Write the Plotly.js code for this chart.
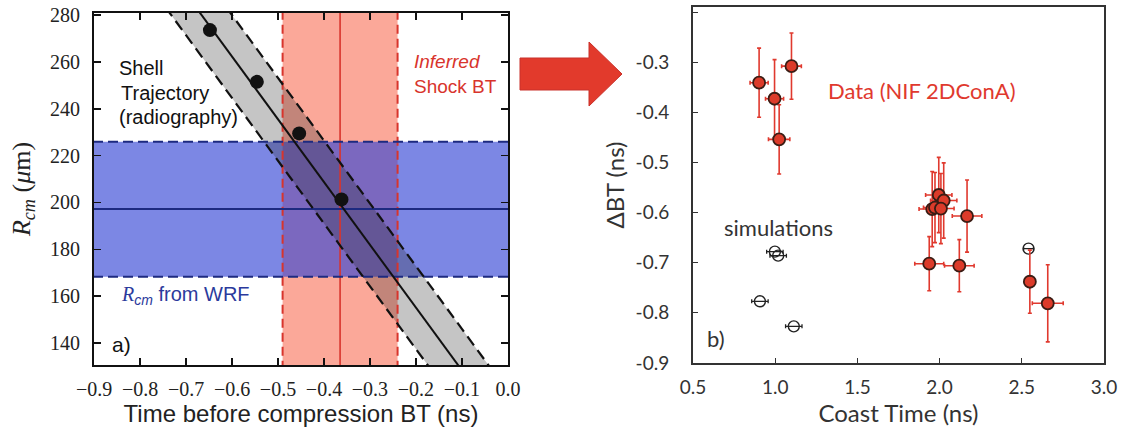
<!DOCTYPE html>
<html><head><meta charset="utf-8">
<script src="https://cdn.plot.ly/plotly-3.0.1.min.js"></script>
<style>html,body{margin:0;padding:0;background:#fff}#chart{width:1123px;height:434px}</style>
</head><body><div id="chart"></div>
<script>
// ---------- Panel a data ----------
const shellT = [-0.648, -0.546, -0.454, -0.362];      // ns
const shellR = [273.6, 251.5, 229.5, 201.3];          // μm
const fitIntercept = [101.5];                          // μm  (R = a + b t)
const fitSlope = [-268];                               // μm/ns
const fitHalfWidth = [0.066];                          // ns
const wrfR = [168.3, 197.2, 225.9];                    // low, mid, high (μm)
const shockBT = [-0.49, -0.365, -0.24];                // low, mid, high (ns)
const aRangeX = [-0.9001, 0.0001];
const aRangeY = [130.6, 280.9];
const aTickX = [-0.9, -0.8, -0.7, -0.6, -0.5, -0.4, -0.3, -0.2, -0.1, 0.0];
const aTickY = [140, 160, 180, 200, 220, 240, 260, 280];

// ---------- Panel b data ----------
const dataCoast = [0.902, 0.996, 1.024, 1.099, 1.995, 2.025, 1.955, 1.972, 2.008, 2.167, 1.937, 2.120, 2.549, 2.658];
const dataDBT   = [-0.341, -0.373, -0.454, -0.308, -0.565, -0.576, -0.593, -0.590, -0.592, -0.607, -0.702, -0.706, -0.738, -0.781];
const dataErrX  = [0.055, 0.055, 0.065, 0.06, 0.08, 0.08, 0.08, 0.07, 0.08, 0.09, 0.088, 0.09, 0.02, 0.094];
const dataErrY  = [0.069, 0.078, 0.069, 0.066, 0.075, 0.075, 0.075, 0.07, 0.07, 0.072, 0.054, 0.052, 0.063, 0.077];
const simCoast = [0.998, 1.018, 0.907, 1.113, 2.541];
const simDBT   = [-0.678, -0.686, -0.777, -0.827, -0.672];
const simErrX  = [0.05, 0.05, 0.05, 0.05, 0.03];
const bRangeX = [0.4999, 3.0001];
const bRangeY = [-0.9001, -0.19];
const bTickX = [0.5, 1.0, 1.5, 2.0, 2.5, 3.0];
const bTickXText = ['0.5', '1.0', '1.5', '2.0', '2.5', '3.0'];
const bTickY = [-0.9, -0.8, -0.7, -0.6, -0.5, -0.4, -0.3, -0.2];
const bTickYText = ['-0.9', '-0.8', '-0.7', '-0.6', '-0.5', '-0.4', '-0.3', '-0.2'];

// ---------- helpers ----------
const W = 1123, H = 434;
const px = v => v / W, py = v => 1 - v / H;
const RED = '#d8342c', NAVY = '#1d2a80';
const yLo = aRangeY[0] - 20, yHi = aRangeY[1] + 20;
const xLo = aRangeX[0] - 0.1, xHi = aRangeX[1] + 0.1;
const tAt = R => (R - fitIntercept[0]) / fitSlope[0];
const hw = fitHalfWidth[0];

const traces = [];
// red (shock) band
traces.push({x: [shockBT[0], shockBT[2], shockBT[2], shockBT[0], shockBT[0]], y: [yLo, yLo, yHi, yHi, yLo],
  type: 'scatter', mode: 'lines', fill: 'toself', fillcolor: 'rgba(248,105,80,0.58)', line: {width: 0},
  xaxis: 'x', yaxis: 'y', hoverinfo: 'skip', showlegend: false});
// blue (WRF) band
traces.push({x: [xLo, xHi, xHi, xLo, xLo], y: [wrfR[0], wrfR[0], wrfR[2], wrfR[2], wrfR[0]],
  type: 'scatter', mode: 'lines', fill: 'toself', fillcolor: 'rgba(50,68,212,0.64)', line: {width: 0},
  xaxis: 'x', yaxis: 'y', hoverinfo: 'skip', showlegend: false});
// gray shell trajectory band
traces.push({x: [tAt(yHi) - hw, tAt(yHi) + hw, tAt(yLo) + hw, tAt(yLo) - hw, tAt(yHi) - hw], y: [yHi, yHi, yLo, yLo, yHi],
  type: 'scatter', mode: 'lines', fill: 'toself', fillcolor: 'rgba(40,40,40,0.27)', line: {width: 0},
  xaxis: 'x', yaxis: 'y', hoverinfo: 'skip', showlegend: false});
// red lines
[0, 2].forEach(i => traces.push({x: [shockBT[i], shockBT[i]], y: [yLo, yHi], type: 'scatter', mode: 'lines',
  line: {color: RED, width: 2, dash: '9px,5px'}, xaxis: 'x', yaxis: 'y', hoverinfo: 'skip', showlegend: false}));
traces.push({x: [shockBT[1], shockBT[1]], y: [yLo, yHi], type: 'scatter', mode: 'lines',
  line: {color: RED, width: 1.6}, xaxis: 'x', yaxis: 'y', hoverinfo: 'skip', showlegend: false});
// blue lines
[0, 2].forEach(i => traces.push({x: [xLo, xHi], y: [wrfR[i], wrfR[i]], type: 'scatter', mode: 'lines',
  line: {color: NAVY, width: 2, dash: '10px,5px'}, xaxis: 'x', yaxis: 'y', hoverinfo: 'skip', showlegend: false}));
traces.push({x: [xLo, xHi], y: [wrfR[1], wrfR[1]], type: 'scatter', mode: 'lines',
  line: {color: NAVY, width: 2}, xaxis: 'x', yaxis: 'y', hoverinfo: 'skip', showlegend: false});
// black trajectory lines
[-1, 1].forEach(s => traces.push({x: [tAt(yHi) + s * hw, tAt(yLo) + s * hw], y: [yHi, yLo], type: 'scatter', mode: 'lines',
  line: {color: '#111', width: 2.2, dash: '11px,6px'}, xaxis: 'x', yaxis: 'y', hoverinfo: 'skip', showlegend: false}));
traces.push({x: [tAt(yHi), tAt(yLo)], y: [yHi, yLo], type: 'scatter', mode: 'lines',
  line: {color: '#111', width: 2}, xaxis: 'x', yaxis: 'y', hoverinfo: 'skip', showlegend: false});
// radiography points
traces.push({x: shellT, y: shellR, type: 'scatter', mode: 'markers',
  marker: {color: '#111', size: 14}, xaxis: 'x', yaxis: 'y', showlegend: false, cliponaxis: false});

// panel b: simulations
traces.push({x: simCoast, y: simDBT, type: 'scatter', mode: 'markers',
  marker: {symbol: 'circle-open', color: '#222', size: 11, line: {width: 1.4, color: '#222'}},
  error_x: {type: 'data', array: simErrX, visible: true, color: '#222', thickness: 1.3, width: 2},
  xaxis: 'x2', yaxis: 'y2', showlegend: false});
// panel b: data
traces.push({x: dataCoast, y: dataDBT, type: 'scatter', mode: 'markers',
  marker: {color: '#dc3b2a', size: 12, line: {width: 1.8, color: '#3a1c14'}},
  error_x: {type: 'data', array: dataErrX, visible: true, color: '#e0392e', thickness: 1.6, width: 2},
  error_y: {type: 'data', array: dataErrY, visible: true, color: '#e0392e', thickness: 1.6, width: 2},
  xaxis: 'x2', yaxis: 'y2', showlegend: false});

const serif = 'Liberation Serif, serif';
const sans = 'Liberation Sans, Arial, sans-serif';
const cal = 'Lato, sans-serif';

const layout = {
  width: W, height: H, margin: {l: 0, r: 0, t: 0, b: 0},
  paper_bgcolor: '#fff', plot_bgcolor: 'rgba(0,0,0,0)', showlegend: false,
  xaxis: {domain: [px(94), px(508)], range: aRangeX, tickvals: aTickX, tickformat: '.1f',
    ticks: 'inside', ticklen: 7, tickwidth: 1.5, tickcolor: '#111', mirror: 'allticks', showline: true, linecolor: '#111', linewidth: 2,
    showgrid: false, zeroline: false, anchor: 'y', tickfont: {family: serif, size: 20, color: '#222'}, ticklabelstandoff: 5,
    title: {text: 'Time before compression BT (ns)', font: {family: sans, size: 24, color: '#222'}, standoff: 5}},
  yaxis: {domain: [py(365), py(13)], range: aRangeY, tickvals: aTickY,
    ticks: 'inside', ticklen: 7, tickwidth: 1.5, tickcolor: '#111', mirror: 'allticks', showline: true, linecolor: '#111', linewidth: 2,
    showgrid: false, zeroline: false, anchor: 'x', tickfont: {family: serif, size: 20, color: '#222'}, ticklabelstandoff: 8,
    title: {text: '<i>R</i><sub><i>cm</i></sub> (<i>μ</i>m)', font: {family: serif, size: 26, color: '#222'}, standoff: 12}},
  xaxis2: {domain: [px(693), px(1104)], range: bRangeX, tickvals: bTickX, ticktext: bTickXText,
    ticks: 'inside', ticklen: 5, tickwidth: 1, tickcolor: '#333', mirror: true, showline: true, linecolor: '#333', linewidth: 2,
    showgrid: false, zeroline: false, anchor: 'y2', tickfont: {family: cal, size: 19, color: '#333'}, ticklabelstandoff: 6,
    title: {text: 'Coast Time (ns)', font: {family: cal, size: 24, color: '#333'}, standoff: 0}},
  yaxis2: {domain: [py(363), py(7)], range: bRangeY, tickvals: bTickY, ticktext: bTickYText,
    ticks: 'inside', ticklen: 5, tickwidth: 1, tickcolor: '#333', mirror: true, showline: true, linecolor: '#333', linewidth: 2,
    showgrid: false, zeroline: false, anchor: 'x2', tickfont: {family: cal, size: 19, color: '#333'}, ticklabelstandoff: 18,
    title: {text: 'ΔBT (ns)', font: {family: cal, size: 24, color: '#333'}, standoff: 4}},
  shapes: [{type: 'path', xref: 'paper', yref: 'paper',
    path: `M ${px(520)} ${py(58)} L ${px(589)} ${py(58)} L ${px(589)} ${py(42)} L ${px(622)} ${py(74)} L ${px(589)} ${py(106)} L ${px(589)} ${py(90)} L ${px(520)} ${py(90)} Z`,
    fillcolor: '#e23a2c', line: {color: '#c9302a', width: 1}}],
  annotations: [
    {text: 'Shell', x: px(117), y: py(68), xref: 'paper', yref: 'paper', xanchor: 'left', yanchor: 'middle', showarrow: false, font: {family: sans, size: 20, color: '#111'}},
    {text: 'Trajectory', x: px(119), y: py(93), xref: 'paper', yref: 'paper', xanchor: 'left', yanchor: 'middle', showarrow: false, font: {family: sans, size: 20, color: '#111'}},
    {text: '(radiography)', x: px(117), y: py(117), xref: 'paper', yref: 'paper', xanchor: 'left', yanchor: 'middle', showarrow: false, font: {family: sans, size: 20, color: '#111'}},
    {text: '<i>Inferred</i>', x: px(412), y: py(62), xref: 'paper', yref: 'paper', xanchor: 'left', yanchor: 'middle', showarrow: false, font: {family: sans, size: 19, color: '#d8342c'}},
    {text: 'Shock BT', x: px(412), y: py(87), xref: 'paper', yref: 'paper', xanchor: 'left', yanchor: 'middle', showarrow: false, font: {family: sans, size: 19, color: '#d8342c'}},
    {text: '<i style="font-family:Liberation Serif">R</i><sub><i>cm</i></sub> from WRF', x: px(119), y: py(295), xref: 'paper', yref: 'paper', xanchor: 'left', yanchor: 'middle', showarrow: false, font: {family: sans, size: 20, color: '#2b3a9c'}},
    {text: 'a)', x: px(110), y: py(344), xref: 'paper', yref: 'paper', xanchor: 'left', yanchor: 'middle', showarrow: false, font: {family: sans, size: 21, color: '#111'}},
    {text: 'Data (NIF 2DConA)', x: px(826), y: py(90), xref: 'paper', yref: 'paper', xanchor: 'left', yanchor: 'middle', showarrow: false, font: {family: cal, size: 22, color: '#e0392e'}},
    {text: 'simulations', x: px(722), y: py(227), xref: 'paper', yref: 'paper', xanchor: 'left', yanchor: 'middle', showarrow: false, font: {family: cal, size: 22, color: '#333'}},
    {text: 'b)', x: px(705), y: py(338), xref: 'paper', yref: 'paper', xanchor: 'left', yanchor: 'middle', showarrow: false, font: {family: cal, size: 22, color: '#333'}}
  ]
};
Plotly.newPlot('chart', traces, layout, {staticPlot: true, displayModeBar: false});
</script></body></html>
